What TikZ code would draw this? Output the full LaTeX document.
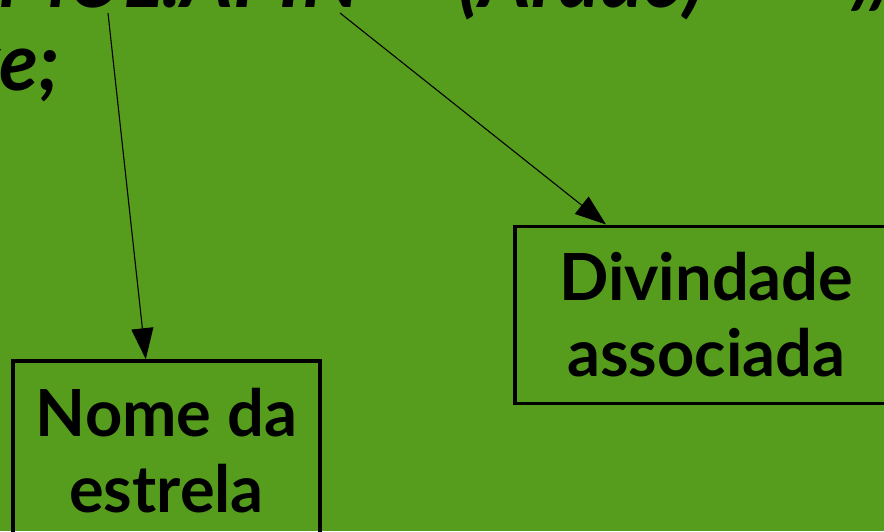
\documentclass[tikz,border=0pt]{standalone}
\usepackage{fontspec}
\setmainfont{Lato}
\usetikzlibrary{arrows.meta}
\definecolor{leaf}{RGB}{86,157,30}
\begin{document}
\begin{tikzpicture}[x=1pt,y=-1pt,
  every node/.style={inner sep=0pt},
  heading/.style={font=\fontsize{80}{88}\selectfont\bfseries\itshape},
  boxlabel/.style={draw=black, line width=3.5pt, align=center,
    font=\fontsize{65}{76}\selectfont\bfseries},
  pointer/.style={-{Triangle[length=31pt,width=22pt]}, line width=1.1pt, black}]
  % canvas
  \fill[leaf] (0,0) rectangle (884,531);
  \useasboundingbox (0,0) rectangle (884,531);
  % running text at the top
  \node[heading, anchor=base east] (mul) at (360,7) {MUL.APIN};
  \node[heading, anchor=base west] (arado) at (458,7) {(Arado)};
  \node[heading, anchor=base west] (sep) at (852,7) {//};
  \node[heading, anchor=base east] (ve) at (60,90) {ve;};
  % labelled boxes
  \node[boxlabel, minimum width=307pt, minimum height=180pt, anchor=north] (star) at (166.5,359.2) {Nome da\\estrela};
  \node[boxlabel, minimum width=383pt, minimum height=177pt, anchor=north west] (god) at (513,224.5) {Divindade\\associada};
  % pointers from the words to the boxes
  \coordinate (from1) at (108,13);
  \coordinate (from2) at (340,13);
  \draw[pointer] (from1) -- ([xshift=134.5pt]star.north west);
  \draw[pointer] (from2) -- ([xshift=93pt]god.north west);
\end{tikzpicture}
\end{document}
